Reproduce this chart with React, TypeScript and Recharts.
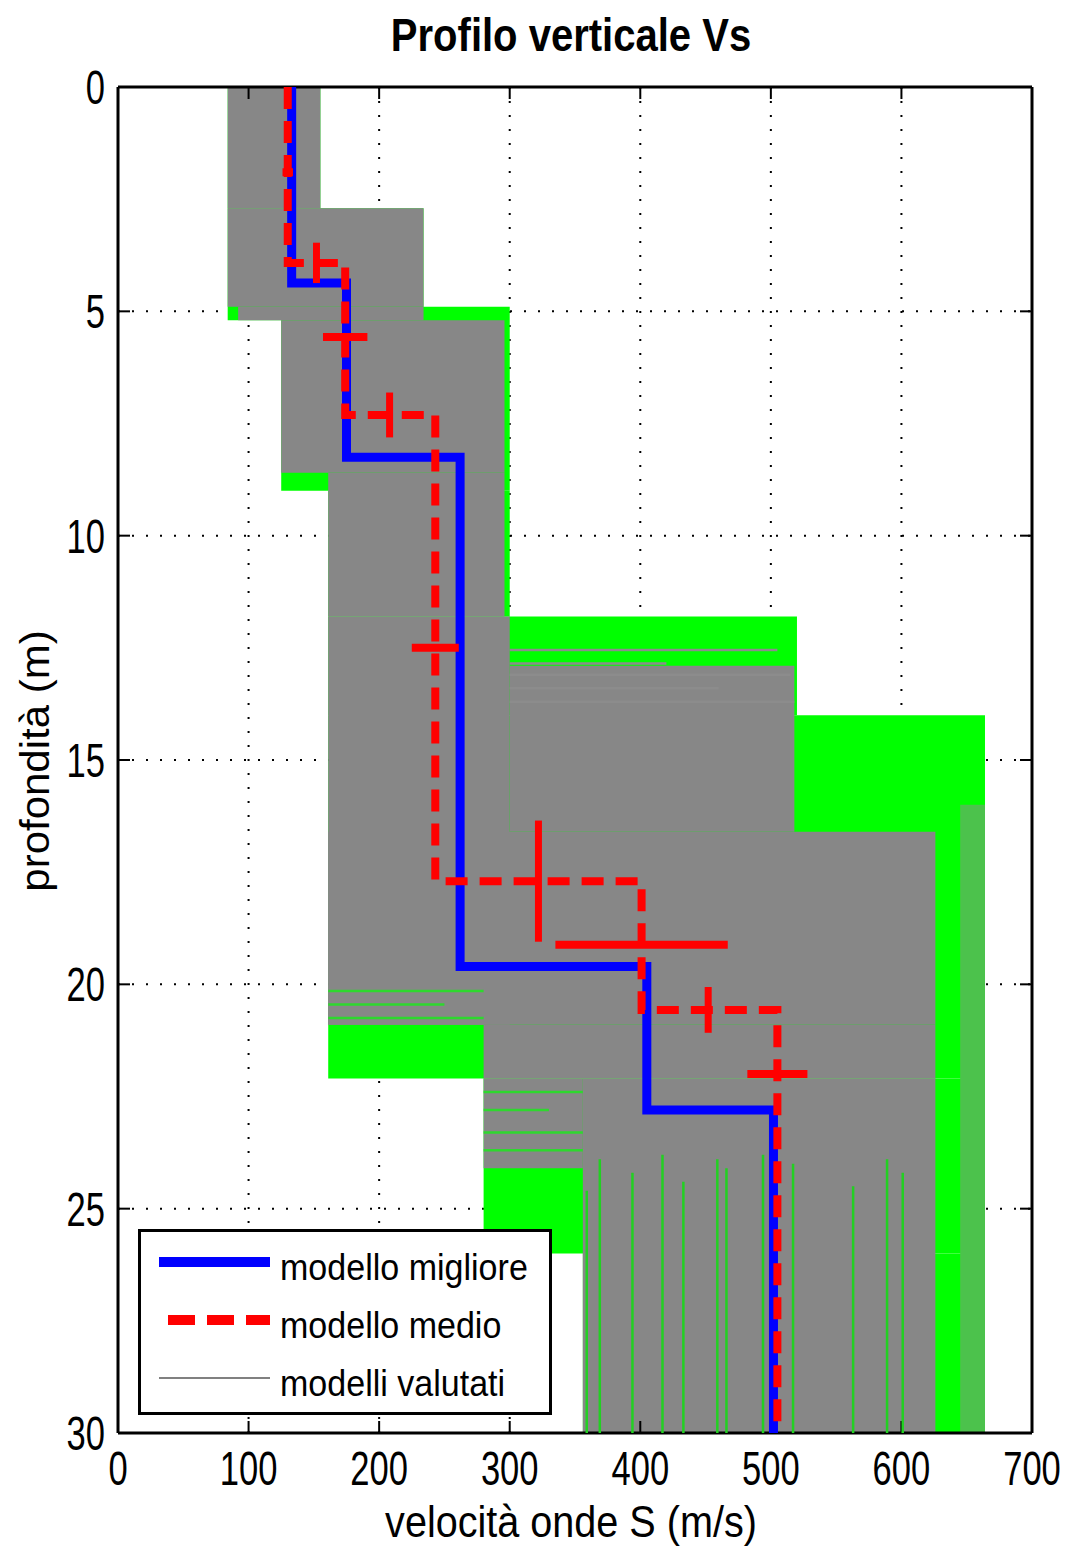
import React from 'react';
import { ScatterChart, Scatter, XAxis, YAxis, CartesianGrid, ReferenceArea, Legend, Label } from 'recharts';

const X_TICKS = [0, 100, 200, 300, 400, 500, 600, 700];
const Y_TICKS = [0, 5, 10, 15, 20, 25, 30];
const MAX_DEPTH = 30;

// modello migliore (best model): layer velocities and interface depths
const bestVs = [133, 175, 262, 405, 502];
const bestInterfaces = [4.37, 8.25, 19.6, 22.8];

// modello medio (mean model)
const meanVs = [130, 174, 243, 401, 505];
const meanInterfaces = [3.92, 7.31, 17.7, 20.57];
// velocity uncertainty bars (horizontal)
const meanVsErrDepth = [1.9, 5.57, 12.5, 19.12, 22.0];
const meanVsErr = [4, 17, 18, 66, 23];
// depth uncertainty bars (vertical)
const meanDepthErrVs = [152, 208, 322, 452];
const meanDepthErr = [0.45, 0.5, 1.35, 0.51];

// modelli valutati: envelope of the evaluated models [vMin, vMax, depthTop, depthBottom]
const envelopeGreen = [
  [84, 155, 0, 2.7],
  [84, 234, 2.7, 5.2],
  [125, 300, 4.9, 9.0],
  [161, 300, 9.0, 11.8],
  [161, 520, 11.8, 14.0],
  [161, 664, 14.0, 22.1],
  [280, 664, 22.1, 26.0],
  [356, 664, 26.0, 30],
];
const envelopeGray = [
  [84, 155, 0, 2.7],
  [84, 234, 2.7, 4.9],
  [92, 234, 4.9, 5.2],
  [125, 296, 5.2, 8.6],
  [161, 296, 8.6, 11.8],
  [161, 300, 11.8, 20.9],
  [300, 518, 12.9, 16.6],
  [161, 626, 16.6, 20.9],
  [280, 626, 20.9, 22.1],
  [280, 356, 22.1, 24.1],
  [356, 626, 22.1, 30],
];
// outer fringe where green and grey models overlap
const envelopeMixed = [[645, 664, 16.0, 30]];

// single evaluated-model segments visible as stripes
const greenVerticalVs = [359, 369, 394, 417, 433, 459, 466, 494, 517, 563, 589, 601];
const greenVerticalTop = [24.6, 23.9, 24.2, 23.8, 24.4, 23.9, 24.1, 23.8, 24.0, 24.5, 23.9, 24.2];
const grayBandDepths = [12.55, 12.85, 13.1, 13.4, 13.7];
const grayBandEnds = [505, 420, 515, 460, 518];
const greenLeftDepths = [20.15, 20.45, 20.75, 22.4, 22.8, 23.3, 23.7];
const greenLeftStarts = [161, 161, 161, 280, 280, 280, 280];
const greenLeftEnds = [280, 250, 280, 356, 330, 356, 356];

const legendItems = [
  { label: 'modello migliore', color: '#0000ff', width: 10, dash: undefined as string | undefined, start: 21 },
  { label: 'modello medio', color: '#ff0000', width: 10, dash: '27 12', start: 30 },
  { label: 'modelli valutati', color: '#808080', width: 2, dash: undefined as string | undefined, start: 21 },
];

const GREEN = '#00ff00';
const GRAY = '#878787';
const MIXED = '#4cc24c';
const FONT = '"Liberation Sans", Arial, sans-serif';

function stepProfile(vs: number[], interfaces: number[]) {
  const pts: { v: number; d: number }[] = [];
  vs.forEach((v, i) => {
    const top = i === 0 ? 0 : interfaces[i - 1];
    const bottom = i < interfaces.length ? interfaces[i] : MAX_DEPTH;
    pts.push({ v, d: top });
    pts.push({ v, d: bottom });
  });
  return pts;
}

const noShape = () => <g />;

function seg(key: string, data: { v: number; d: number }[], stroke: string, width: number, dash?: string) {
  return (
    <Scatter
      key={key}
      data={data}
      line={{ stroke, strokeWidth: width, strokeDasharray: dash, strokeLinejoin: 'miter', strokeLinecap: 'butt' }}
      lineType="joint"
      shape={noShape}
      fill={stroke}
      legendType="none"
      isAnimationActive={false}
    />
  );
}

const XTick = (props: any) => {
  const { x, y, payload } = props;
  return (
    <g transform={`translate(${x},${y}) scale(0.72,1)`}>
      <text x={0} y={0} textAnchor="middle" fontFamily={FONT} fontSize={48} fill="#000">
        {payload.value}
      </text>
    </g>
  );
};

const YTick = (props: any) => {
  const { x, y, payload } = props;
  return (
    <g transform={`translate(${x},${y + 17}) scale(0.72,1)`}>
      <text x={0} y={0} textAnchor="end" fontFamily={FONT} fontSize={48} fill="#000">
        {payload.value}
      </text>
    </g>
  );
};

const EmptyTick = () => <g />;

const TitleLabel = () => (
  <g transform="translate(571,51) scale(0.87,1)">
    <text x={0} y={0} textAnchor="middle" fontFamily={FONT} fontWeight="bold" fontSize={46} fill="#000">
      Profilo verticale Vs
    </text>
  </g>
);

const XLabel = () => (
  <g transform="translate(571,1537) scale(0.9,1)">
    <text x={0} y={0} textAnchor="middle" fontFamily={FONT} fontSize={44} fill="#000">
      velocità onde S (m/s)
    </text>
  </g>
);

const YLabel = () => (
  <g transform="translate(49,761) rotate(-90) scale(1.05,1)">
    <text x={0} y={0} textAnchor="middle" fontFamily={FONT} fontSize={40} fill="#000">
      profondità (m)
    </text>
  </g>
);

const LegendBox = () => (
  <svg width={414} height={186} style={{ display: 'block' }}>
    <rect x={1.5} y={1.5} width={411} height={183} fill="#fff" stroke="#000" strokeWidth={3} />
    {legendItems.map((it, i) => {
      const ly = 33 + i * 58;
      return (
        <g key={it.label}>
          <line x1={it.start} x2={132} y1={ly} y2={ly} stroke={it.color} strokeWidth={it.width} strokeDasharray={it.dash} />
          <g transform={`translate(142,${ly + 18}) scale(0.92,1)`}>
            <text x={0} y={0} fontFamily={FONT} fontSize={37} fill="#000">
              {it.label}
            </text>
          </g>
        </g>
      );
    })}
  </svg>
);

export default function App() {
  const best = stepProfile(bestVs, bestInterfaces);
  const mean = stepProfile(meanVs, meanInterfaces);

  return (
    <div style={{ position: 'absolute', left: 0, top: 0, width: 1065, height: 1551, background: '#fff' }}>
      <ScatterChart width={1065} height={1551} margin={{ top: 77, right: 23, bottom: 58, left: 58 }}>
        <CartesianGrid stroke="#000" strokeWidth={2} strokeDasharray="2 12" />
        {envelopeGreen.map((r, i) => (
          <ReferenceArea key={`g${i}`} x1={r[0]} x2={r[1]} y1={r[2]} y2={r[3]} fill={GREEN} fillOpacity={1} stroke="none" ifOverflow="visible" />
        ))}
        {envelopeGray.map((r, i) => (
          <ReferenceArea key={`a${i}`} x1={r[0]} x2={r[1]} y1={r[2]} y2={r[3]} fill={GRAY} fillOpacity={1} stroke="none" ifOverflow="visible" />
        ))}
        {envelopeMixed.map((r, i) => (
          <ReferenceArea key={`m${i}`} x1={r[0]} x2={r[1]} y1={r[2]} y2={r[3]} fill={MIXED} fillOpacity={1} stroke="none" ifOverflow="visible" />
        ))}
        {greenVerticalVs.map((v, i) => seg(`gv${i}`, [{ v, d: greenVerticalTop[i] }, { v, d: MAX_DEPTH }], '#22d022', 2.5))}
        {grayBandDepths.map((d, i) => seg(`gb${i}`, [{ v: 300, d }, { v: grayBandEnds[i], d }], '#8c8c8c', 2.5))}
        {greenLeftDepths.map((d, i) => seg(`gl${i}`, [{ v: greenLeftStarts[i], d }, { v: greenLeftEnds[i], d }], '#2ed82e', 2.5))}
        {seg('best', best, '#0000ff', 9)}
        {seg('mean', mean, '#ff0000', 8, '22 12')}
        {meanVsErrDepth.map((d, i) =>
          seg(`ve${i}`, [{ v: meanVs[i] - meanVsErr[i], d }, { v: meanVs[i] + meanVsErr[i], d }], '#ff0000', 8)
        )}
        {meanDepthErrVs.map((v, i) =>
          seg(`de${i}`, [{ v, d: meanInterfaces[i] - meanDepthErr[i] }, { v, d: meanInterfaces[i] + meanDepthErr[i] }], '#ff0000', 7)
        )}
        <XAxis
          type="number"
          dataKey="v"
          domain={[0, 700]}
          ticks={X_TICKS}
          allowDataOverflow
          height={60}
          tickSize={-12}
          tickMargin={64}
          tick={<XTick />}
          axisLine={{ stroke: '#000', strokeWidth: 3 }}
          tickLine={{ stroke: '#000', strokeWidth: 2 }}
        >
          <Label content={<XLabel />} />
        </XAxis>
        <XAxis
          xAxisId="top"
          orientation="top"
          type="number"
          dataKey="v"
          domain={[0, 700]}
          ticks={X_TICKS}
          allowDataOverflow
          height={10}
          tickSize={-12}
          tick={<EmptyTick />}
          axisLine={{ stroke: '#000', strokeWidth: 3 }}
          tickLine={{ stroke: '#000', strokeWidth: 2 }}
        >
          <Label content={<TitleLabel />} />
        </XAxis>
        <YAxis
          type="number"
          dataKey="d"
          domain={[0, 30]}
          ticks={Y_TICKS}
          reversed
          allowDataOverflow
          width={60}
          tickSize={-12}
          tickMargin={25}
          tick={<YTick />}
          axisLine={{ stroke: '#000', strokeWidth: 3 }}
          tickLine={{ stroke: '#000', strokeWidth: 2 }}
        >
          <Label content={<YLabel />} />
        </YAxis>
        <YAxis
          yAxisId="right"
          orientation="right"
          type="number"
          dataKey="d"
          domain={[0, 30]}
          ticks={Y_TICKS}
          reversed
          allowDataOverflow
          width={10}
          tickSize={-12}
          tick={<EmptyTick />}
          axisLine={{ stroke: '#000', strokeWidth: 3 }}
          tickLine={{ stroke: '#000', strokeWidth: 2 }}
        />
        <Legend
          layout="vertical"
          align="center"
          verticalAlign="middle"
          wrapperStyle={{ left: 138, top: 1229, width: 414, height: 186 }}
          content={<LegendBox />}
        />
      </ScatterChart>
    </div>
  );
}
